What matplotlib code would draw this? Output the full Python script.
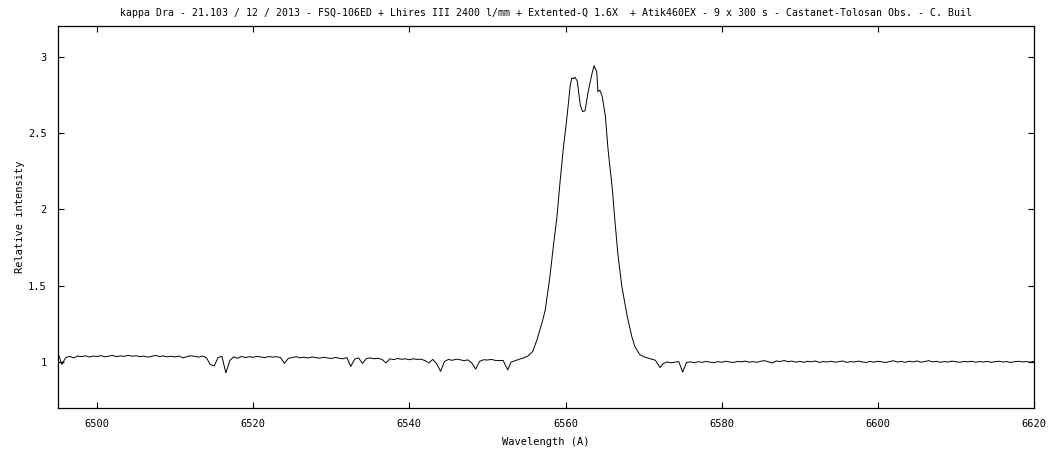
import numpy as np
import matplotlib
matplotlib.use("Agg")
import matplotlib.pyplot as plt
from matplotlib.ticker import FormatStrFormatter

# blue-side continuum, 6495.0 -> 6551.0 A, sampled every 0.5 A
blue_start = 6495.0
blue_step = 0.5
blue_flux = [
    1.060, 0.985, 1.030, 1.038, 1.028, 1.040, 1.036, 1.042, 1.034, 1.040,
    1.037, 1.043, 1.035, 1.040, 1.044, 1.036, 1.041, 1.038, 1.045, 1.039,
    1.042, 1.036, 1.040, 1.033, 1.038, 1.044, 1.037, 1.041, 1.035, 1.039,
    1.034, 1.040, 1.028, 1.036, 1.042, 1.038, 1.033, 1.040, 1.030, 0.985,
    0.975, 1.030, 1.038, 0.930, 1.010, 1.035, 1.025, 1.038, 1.030, 1.036,
    1.032, 1.038, 1.034, 1.030, 1.037, 1.033, 1.036, 1.030, 0.992, 1.025,
    1.030, 1.036, 1.028, 1.033, 1.027, 1.034, 1.030, 1.026, 1.032, 1.028,
    1.024, 1.031, 1.026, 1.022, 1.030, 0.972, 1.020, 1.028, 0.992, 1.024,
    1.028, 1.022, 1.026, 1.018, 0.995, 1.022, 1.017, 1.024, 1.019, 1.022,
    1.016, 1.022, 1.018, 1.020, 1.010, 0.995, 1.018, 0.990, 0.940, 1.005,
    1.018, 1.012, 1.020, 1.016, 1.010, 1.015, 0.995, 0.955, 1.005, 1.016,
    1.014, 1.018, 1.012,
]

# H-alpha emission (double peak)
line_wl = [
    6551.5, 6552.0, 6552.6, 6553.0, 6553.3, 6554.0, 6554.6, 6555.2, 6555.8, 6556.3,
    6557.0, 6557.4, 6558.0, 6558.4, 6558.9, 6559.3, 6559.7, 6560.2, 6560.6, 6560.8,
    6561.0, 6561.2, 6561.5, 6561.9, 6562.2, 6562.5, 6562.9, 6563.4, 6563.65, 6564.0,
    6564.15, 6564.4, 6564.7, 6565.1, 6565.45, 6566.0, 6566.35, 6566.7, 6567.2, 6567.9,
    6568.5, 6568.9, 6569.5, 6570.0, 6570.6, 6571.0, 6571.5, 6572.1, 6572.5, 6573.0,
    6573.5,
]
line_flux = [
    1.010, 1.012, 0.950, 1.000, 1.005, 1.018, 1.028, 1.040, 1.070, 1.140,
    1.260, 1.340, 1.560, 1.740, 1.950, 2.180, 2.390, 2.610, 2.810, 2.860,
    2.855, 2.865, 2.840, 2.680, 2.640, 2.645, 2.770, 2.890, 2.940, 2.900,
    2.770, 2.780, 2.740, 2.610, 2.390, 2.130, 1.910, 1.710, 1.500, 1.300,
    1.165, 1.100, 1.050, 1.036, 1.026, 1.020, 1.013, 0.965, 0.990, 1.002,
    0.996,
]

# red-side continuum, 6574.0 -> 6620.0 A, every 0.5 A
red_start = 6574.0
red_step = 0.5
red_flux = [
    1.000, 1.004, 0.935, 0.998, 1.002, 0.996, 1.003, 0.999, 1.005, 1.000,
    0.997, 1.004, 0.999, 1.006, 1.001, 0.998, 1.005, 1.002, 1.007, 1.000,
    1.004, 0.999, 1.006, 1.010, 1.002, 0.995, 1.008, 1.004, 1.011, 1.003,
    1.007, 1.000, 1.005, 0.999, 1.006, 1.002, 1.008, 0.998, 1.004, 1.001,
    1.006, 1.000, 1.003, 1.008, 0.999, 1.004, 1.001, 1.007, 1.002, 0.998,
    1.005, 1.000, 1.006, 1.002, 0.998, 1.004, 1.009, 1.001, 1.005, 0.999,
    1.006, 1.002, 1.008, 1.000, 1.004, 1.010, 1.002, 1.006, 0.999, 1.004,
    1.001, 1.007, 1.003, 0.999, 1.005, 1.002, 1.006, 1.000, 1.004, 1.001,
    1.005, 0.999, 1.003, 1.006, 1.001, 1.004, 0.998, 1.003, 1.006, 1.002,
    1.004, 1.000, 1.005,
]

titulo = ("kappa Dra - 21.103 / 12 / 2013 - FSQ-106ED + Lhires III 2400 l/mm + "
          "Extented-Q 1.6X  + Atik460EX - 9 x 300 s - Castanet-Tolosan Obs. - C. Buil")

blue_wl = blue_start + blue_step * np.arange(len(blue_flux))
red_wl = red_start + red_step * np.arange(len(red_flux))
wl = np.concatenate([blue_wl, line_wl, red_wl])
flux = np.concatenate([blue_flux, line_flux, red_flux])

plt.rcParams['font.family'] = ['DejaVu Sans Mono']
fs = 7.5

fig = plt.figure(figsize=(10.5, 4.5), dpi=100)
ax = fig.add_axes([0.0552, 0.0933, 0.9296, 0.8489])
ax.plot(wl, flux, color='black', linewidth=0.7)

ax.set_xlim(6495, 6620)
ax.set_ylim(0.7, 3.2)
ax.set_xticks([6500, 6520, 6540, 6560, 6580, 6600, 6620])
ax.set_yticks([1, 1.5, 2, 2.5, 3])
ax.yaxis.set_major_formatter(FormatStrFormatter('%g'))
ax.tick_params(direction='in', length=4.5, width=0.8, top=True, right=True,
               labelsize=fs, pad=8, colors='black')
for s in ax.spines.values():
    s.set_linewidth(0.9)

ax.set_xlabel("Wavelength (A)", fontsize=fs, labelpad=6)
ax.set_ylabel("Relative intensity", fontsize=fs, labelpad=2)
ax.set_title(titulo, fontsize=7.1, pad=7)

fig.savefig("out.png", dpi=100)
